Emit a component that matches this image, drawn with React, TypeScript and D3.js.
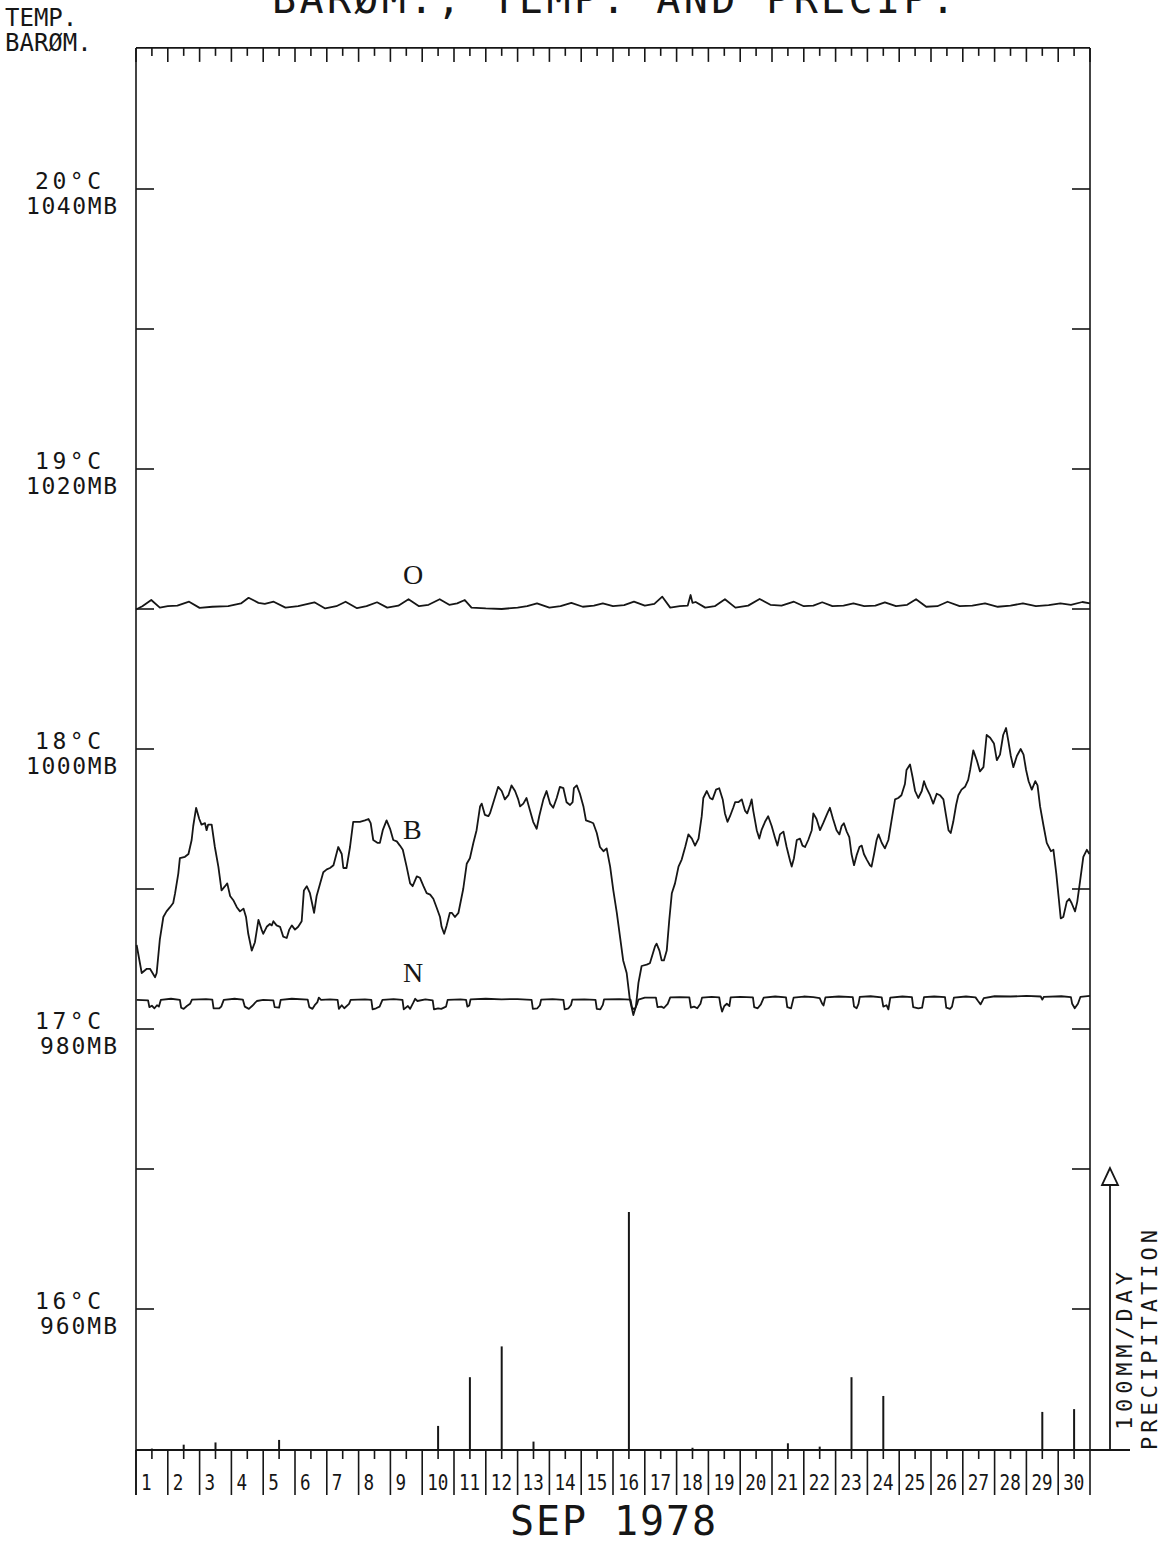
import * as d3 from "d3";

// plotter chart: barometer (B), two temperature traces (O, N) and daily precipitation, Sep 1978

const dayLabels = ["1", "2", "3", "4", "5", "6", "7", "8", "9", "10", "11", "12", "13", "14", "15",
  "16", "17", "18", "19", "20", "21", "22", "23", "24", "25", "26", "27", "28", "29", "30"];

// mm/day, one per day
const precip = [0.5, 1.9, 2.7, 0, 3.6, 0, 0, 0, 0, 8.6, 26, 37, 3.0, 0, 0, 85, 0, 0.8, 0, 0,
  2.4, 1.2, 26, 19.3, 0, 0, 0, 0, 13.6, 14.6];

const tempTicks = [16, 17, 18, 19, 20];
const baroTicks = [960, 980, 1000, 1020, 1040];

// barometer, time in days since 1 Sep 00h, pressure in mb
const baroTimes = [0.02, 0.18, 0.34, 0.44, 0.6, 0.65, 0.75, 0.86, 0.96, 1.07, 1.17, 1.23, 1.33, 1.38, 1.54, 1.65, 1.75, 1.8, 1.89, 1.99,
  2.06, 2.17, 2.22, 2.27, 2.38, 2.48, 2.59, 2.69, 2.8, 2.87, 2.96, 3.06, 3.17, 3.27, 3.38, 3.46, 3.53, 3.64, 3.74, 3.85,
  3.95, 4.0, 4.11, 4.21, 4.27, 4.32, 4.42, 4.53, 4.63, 4.74, 4.82, 4.9, 5.0, 5.1, 5.21, 5.28, 5.37, 5.47, 5.6, 5.68,
  5.79, 5.89, 6.0, 6.1, 6.21, 6.29, 6.36, 6.47, 6.52, 6.62, 6.73, 6.83, 7.04, 7.2, 7.31, 7.38, 7.46, 7.59, 7.67, 7.76,
  7.88, 7.99, 8.09, 8.2, 8.3, 8.39, 8.51, 8.62, 8.7, 8.83, 8.93, 9.04, 9.14, 9.25, 9.35, 9.45, 9.56, 9.61, 9.69, 9.77,
  9.87, 9.93, 10.03, 10.14, 10.29, 10.4, 10.5, 10.61, 10.71, 10.82, 10.87, 10.97, 11.08, 11.13, 11.24, 11.39, 11.5, 11.6, 11.71, 11.81,
  11.92, 12.02, 12.08, 12.18, 12.28, 12.39, 12.49, 12.6, 12.68, 12.81, 12.91, 13.02, 13.12, 13.23, 13.33, 13.44, 13.54, 13.65, 13.73, 13.77,
  13.86, 13.96, 14.07, 14.15, 14.28, 14.38, 14.49, 14.59, 14.7, 14.8, 14.91, 15.01, 15.12, 15.22, 15.32, 15.43, 15.53, 15.64, 15.72, 15.8,
  15.9, 16.06, 16.16, 16.32, 16.37, 16.46, 16.53, 16.6, 16.69, 16.77, 16.85, 16.95, 17.06, 17.16, 17.27, 17.37, 17.48, 17.58, 17.69, 17.79,
  17.84, 17.95, 18.05, 18.13, 18.24, 18.34, 18.45, 18.52, 18.6, 18.68, 18.78, 18.84, 18.94, 19.05, 19.15, 19.22, 19.31, 19.36, 19.41, 19.52,
  19.6, 19.67, 19.78, 19.88, 19.99, 20.09, 20.17, 20.25, 20.36, 20.46, 20.57, 20.62, 20.69, 20.78, 20.88, 20.96, 21.04, 21.14, 21.25, 21.3,
  21.4, 21.51, 21.61, 21.74, 21.82, 21.92, 22.03, 22.12, 22.19, 22.26, 22.35, 22.43, 22.5, 22.58, 22.66, 22.75, 22.82, 22.89, 22.98, 23.08,
  23.13, 23.21, 23.29, 23.35, 23.45, 23.55, 23.66, 23.76, 23.87, 23.97, 24.07, 24.18, 24.23, 24.34, 24.42, 24.5, 24.6, 24.71, 24.78, 24.86,
  24.97, 25.07, 25.18, 25.28, 25.39, 25.47, 25.55, 25.62, 25.7, 25.79, 25.86, 25.96, 26.07, 26.17, 26.23, 26.33, 26.44, 26.54, 26.65, 26.75,
  26.86, 26.98, 27.07, 27.17, 27.27, 27.36, 27.43, 27.51, 27.59, 27.7, 27.82, 27.91, 27.99, 28.07, 28.17, 28.28, 28.35, 28.43, 28.54, 28.64,
  28.77, 28.85, 28.94, 29.01, 29.08, 29.16, 29.27, 29.35, 29.42, 29.53, 29.6, 29.69, 29.79, 29.9, 29.98];
const baroValues = [986.0, 984.0, 984.3, 984.3, 983.7, 984.0, 986.4, 988.0, 988.4, 988.7, 989.0, 989.7, 991.1, 992.2, 992.3, 992.5, 993.5, 994.5, 995.8, 995.0,
  994.6, 994.7, 994.2, 994.6, 994.6, 993.0, 991.6, 989.9, 990.2, 990.4, 989.5, 989.2, 988.7, 988.4, 988.6, 988.0, 986.8, 985.6, 986.2, 987.8,
  987.1, 986.8, 987.3, 987.5, 987.4, 987.7, 987.4, 987.3, 986.6, 986.5, 987.1, 987.4, 987.1, 987.3, 987.7, 989.9, 990.2, 989.7, 988.3, 989.5,
  990.4, 991.2, 991.4, 991.5, 991.7, 992.4, 993.0, 992.5, 991.5, 991.5, 993.0, 994.8, 994.8, 994.9, 995.0, 994.7, 993.5, 993.3, 993.3, 994.2,
  994.9, 994.3, 993.5, 993.4, 993.1, 992.8, 991.6, 990.4, 990.2, 990.9, 990.8, 990.2, 989.7, 989.6, 989.3, 988.7, 988.0, 987.3, 986.8, 987.4,
  988.3, 988.3, 988.0, 988.3, 990.0, 991.8, 992.2, 993.3, 994.2, 995.9, 996.1, 995.3, 995.2, 995.4, 996.2, 997.3, 997.0, 996.4, 996.7, 997.4,
  997.0, 996.4, 995.9, 996.1, 996.5, 995.6, 994.8, 994.3, 995.2, 996.4, 997.0, 996.1, 995.8, 996.5, 997.3, 997.2, 996.2, 996.0, 996.2, 997.2,
  997.4, 996.8, 995.9, 994.9, 994.8, 994.7, 994.0, 993.0, 992.7, 992.9, 991.6, 989.9, 988.3, 986.6, 984.9, 984.0, 982.1, 981.0, 981.6, 983.3,
  984.5, 984.6, 984.7, 985.9, 986.1, 985.6, 984.9, 984.9, 985.6, 987.8, 989.7, 990.4, 991.6, 992.1, 993.0, 993.9, 993.6, 993.1, 993.6, 995.2,
  996.5, 997.0, 996.5, 996.4, 997.1, 997.2, 996.4, 995.4, 994.8, 995.2, 995.8, 996.2, 996.2, 996.4, 995.6, 995.4, 996.0, 996.4, 995.6, 994.2,
  993.6, 994.2, 994.8, 995.2, 994.5, 993.7, 993.1, 993.9, 994.1, 993.0, 992.0, 991.6, 992.2, 993.5, 993.6, 993.1, 993.0, 993.5, 994.2, 995.4,
  995.0, 994.2, 994.7, 995.4, 995.8, 995.0, 994.2, 993.9, 994.5, 994.7, 994.1, 993.7, 992.5, 991.7, 992.4, 993.0, 993.1, 992.5, 992.1, 991.7,
  991.6, 992.5, 993.5, 993.9, 993.3, 992.9, 993.5, 994.9, 996.4, 996.5, 996.7, 997.5, 998.5, 998.9, 998.0, 997.0, 996.5, 997.0, 997.7, 997.2,
  996.7, 996.1, 996.8, 996.7, 996.4, 995.3, 994.2, 994.0, 994.8, 996.0, 996.7, 997.1, 997.3, 997.8, 998.5, 999.9, 999.2, 998.4, 998.7, 1001.0,
  1000.8, 1000.4, 999.2, 999.6, 1001.0, 1001.5, 1000.6, 999.5, 998.7, 999.5, 1000.0, 999.6, 998.5, 997.7, 997.1, 997.7, 997.4, 995.9, 994.5, 993.3,
  992.7, 992.8, 991.1, 989.5, 987.9, 988.0, 989.1, 989.3, 989.0, 988.4, 989.1, 990.6, 992.3, 992.8, 992.5];

// temperature trace O (deg C)
const oTimes = [0, 0.2, 0.48, 0.75, 1.0, 1.3, 1.67, 2.0, 2.4, 2.9, 3.3, 3.54, 3.85, 4.05, 4.33, 4.7, 5.1, 5.61, 5.95, 6.3,
  6.59, 6.95, 7.25, 7.58, 7.9, 8.25, 8.57, 8.9, 9.2, 9.55, 9.85, 10.1, 10.34, 10.55, 11.0, 11.5, 12.0, 12.3, 12.61, 13.0,
  13.35, 13.69, 14.05, 14.4, 14.68, 15.0, 15.35, 15.66, 16.0, 16.3, 16.55, 16.8, 17.1, 17.35, 17.44, 17.5, 17.6, 17.9, 18.2, 18.52,
  18.85, 19.25, 19.61, 19.95, 20.3, 20.69, 21.0, 21.3, 21.58, 21.9, 22.25, 22.56, 22.9, 23.25, 23.55, 23.9, 24.25, 24.53, 24.85, 25.2,
  25.52, 25.9, 26.3, 26.7, 27.1, 27.5, 27.89, 28.3, 28.7, 29.07, 29.4, 29.76, 30.0];
const oTemps = [18.498, 18.51, 18.532, 18.505, 18.51, 18.512, 18.526, 18.504, 18.508, 18.51, 18.52, 18.54, 18.522, 18.518, 18.526, 18.505, 18.51, 18.524, 18.502, 18.51,
  18.526, 18.503, 18.51, 18.524, 18.505, 18.512, 18.535, 18.51, 18.515, 18.535, 18.515, 18.52, 18.532, 18.505, 18.502, 18.5, 18.505, 18.51, 18.52, 18.505,
  18.51, 18.522, 18.508, 18.512, 18.52, 18.51, 18.514, 18.526, 18.512, 18.518, 18.544, 18.505, 18.51, 18.512, 18.55, 18.522, 18.525, 18.505, 18.51, 18.535,
  18.505, 18.512, 18.536, 18.515, 18.512, 18.526, 18.51, 18.512, 18.524, 18.51, 18.512, 18.52, 18.51, 18.512, 18.524, 18.51, 18.515, 18.535, 18.508, 18.51,
  18.526, 18.51, 18.512, 18.52, 18.508, 18.512, 18.52, 18.51, 18.514, 18.52, 18.515, 18.525, 18.52];

// temperature trace N (deg C)
const nTimes = [0.02, 0.38, 0.42, 0.5, 0.58, 0.66, 0.72, 0.78, 1.1, 1.38, 1.42, 1.5, 1.6, 1.7, 1.76, 2.2, 2.4, 2.44, 2.62, 2.68,
  2.76, 3.1, 3.36, 3.42, 3.55, 3.65, 3.8, 4.0, 4.32, 4.36, 4.5, 4.55, 4.9, 5.4, 5.45, 5.55, 5.62, 5.7, 5.75, 5.82,
  6.1, 6.34, 6.38, 6.47, 6.55, 6.7, 6.75, 7.2, 7.4, 7.44, 7.55, 7.66, 7.75, 8.1, 8.38, 8.42, 8.55, 8.62, 8.72, 8.78,
  8.85, 9.1, 9.33, 9.37, 9.5, 9.6, 9.75, 9.8, 10.2, 10.38, 10.42, 10.48, 10.52, 11.0, 11.5, 12.0, 12.44, 12.48, 12.62, 12.7,
  12.74, 13.1, 13.44, 13.48, 13.6, 13.68, 13.72, 14.1, 14.45, 14.49, 14.6, 14.68, 14.72, 15.2, 15.55, 15.6, 15.68, 15.76, 15.8, 16.0,
  16.35, 16.4, 16.52, 16.6, 16.72, 16.8, 17.1, 17.4, 17.45, 17.55, 17.65, 17.75, 17.8, 18.1, 18.34, 18.38, 18.43, 18.5, 18.58, 18.66,
  18.7, 19.0, 19.4, 19.44, 19.55, 19.65, 19.74, 20.1, 20.44, 20.48, 20.6, 20.68, 21.0, 21.3, 21.5, 21.58, 21.62, 21.68, 22.1, 22.54,
  22.58, 22.66, 22.72, 22.76, 23.1, 23.45, 23.5, 23.6, 23.66, 23.72, 24.1, 24.4, 24.44, 24.6, 24.72, 24.78, 25.1, 25.44, 25.48, 25.6,
  25.66, 25.72, 26.1, 26.4, 26.48, 26.56, 26.66, 27.0, 27.5, 28.0, 28.45, 28.5, 28.55, 29.1, 29.4, 29.44, 29.52, 29.62, 29.7, 30.0];
const nTemps = [17.104, 17.102, 17.078, 17.083, 17.074, 17.085, 17.08, 17.104, 17.108, 17.104, 17.076, 17.072, 17.082, 17.09, 17.105, 17.107, 17.105, 17.074, 17.074, 17.08,
  17.104, 17.108, 17.105, 17.08, 17.072, 17.082, 17.1, 17.104, 17.102, 17.078, 17.076, 17.104, 17.108, 17.105, 17.078, 17.072, 17.085, 17.095, 17.112, 17.104,
  17.106, 17.104, 17.072, 17.085, 17.074, 17.09, 17.104, 17.106, 17.104, 17.07, 17.074, 17.08, 17.104, 17.107, 17.104, 17.07, 17.082, 17.072, 17.094, 17.108,
  17.1, 17.106, 17.102, 17.07, 17.074, 17.072, 17.08, 17.104, 17.106, 17.104, 17.08, 17.084, 17.106, 17.108, 17.106, 17.107, 17.104, 17.072, 17.074, 17.085,
  17.105, 17.107, 17.104, 17.07, 17.074, 17.086, 17.105, 17.106, 17.104, 17.072, 17.07, 17.086, 17.106, 17.107, 17.105, 17.076, 17.07, 17.09, 17.105, 17.112,
  17.112, 17.078, 17.08, 17.075, 17.09, 17.113, 17.114, 17.113, 17.076, 17.08, 17.074, 17.09, 17.112, 17.115, 17.113, 17.085, 17.062, 17.082, 17.09, 17.082,
  17.113, 17.115, 17.113, 17.078, 17.074, 17.088, 17.112, 17.116, 17.113, 17.078, 17.074, 17.112, 17.116, 17.114, 17.11, 17.09, 17.084, 17.113, 17.116, 17.114,
  17.08, 17.074, 17.09, 17.115, 17.117, 17.113, 17.08, 17.085, 17.07, 17.112, 17.116, 17.114, 17.078, 17.074, 17.076, 17.114, 17.116, 17.114, 17.076, 17.072,
  17.08, 17.112, 17.116, 17.113, 17.1, 17.088, 17.11, 17.117, 17.116, 17.118, 17.116, 17.105, 17.115, 17.117, 17.114, 17.09, 17.074, 17.09, 17.115, 17.118];

const W = 1171;
const H = 1544;
const INK = "#161616";
const MONO = "'DejaVu Sans Mono', monospace";

export default function App() {
  const x = d3.scaleLinear().domain([0, 30]).range([136, 1090]);
  const yT = d3.scaleLinear().domain([16, 20]).range([1309, 189]);
  const yB = d3.scaleLinear().domain([960, 1040]).range([1309, 189]);
  const yP = d3.scaleLinear().domain([0, 100]).range([1450, 1170]);

  const top = yT(20.504);
  const base = yP(0);
  const bottom = base + 45;

  const baroLine = d3.line<[number, number]>().x((d) => x(d[0])).y((d) => yB(d[1]));
  const tempLine = d3.line<[number, number]>().x((d) => x(d[0])).y((d) => yT(d[1]));

  const baro = d3.zip(baroTimes, baroValues) as [number, number][];
  const oSeries = d3.zip(oTimes, oTemps) as [number, number][];
  const nSeries = d3.zip(nTimes, nTemps) as [number, number][];

  const halfDays = d3.range(0, 30.001, 0.5);
  const sideTicks = d3.range(16, 20.001, 0.5);

  return (
    <svg width={W} height={H} style={{ position: "absolute", left: 0, top: 0 }}>
      <rect width={W} height={H} fill="#fff" />

      {/* title, mostly cut off at the top edge as in the scanned plot */}
      <text x={272} y={13} fontFamily={MONO} fontSize={40} fill={INK} textLength={683} lengthAdjust="spacing">
        BARØM., TEMP. AND PRECIP.
      </text>
      <text x={5} y={26} fontFamily={MONO} fontSize={24} fill={INK}>TEMP.</text>
      <text x={5} y={51} fontFamily={MONO} fontSize={24} fill={INK}>BARØM.</text>

      {/* frame */}
      <g stroke={INK} strokeWidth={1.6} fill="none">
        <line x1={x(0)} x2={x(0)} y1={top} y2={bottom} />
        <line x1={x(30)} x2={x(30)} y1={top} y2={bottom} />
        <line x1={x(0)} x2={x(30)} y1={top} y2={top} />
        <line x1={x(0)} x2={1130} y1={base} y2={base} strokeWidth={2} />
        {halfDays.map((t) => (
          <line key={"tt" + t} x1={x(t)} x2={x(t)} y1={top} y2={top + (t % 1 === 0 ? 14 : 8)} />
        ))}
        {sideTicks.map((v) => (
          <g key={"st" + v}>
            <line x1={x(0)} x2={x(0) + 18} y1={yT(v)} y2={yT(v)} />
            <line x1={x(30) - 18} x2={x(30)} y1={yT(v)} y2={yT(v)} />
          </g>
        ))}
        {dayLabels.map((d, i) => (
          <g key={"db" + d}>
            <line x1={x(i)} x2={x(i)} y1={base} y2={bottom} />
            <line x1={x(i + 0.5)} x2={x(i + 0.5)} y1={base} y2={base + 9} />
          </g>
        ))}
      </g>

      {/* axis labels */}
      {tempTicks.map((v, i) => (
        <g key={"lab" + v} fontFamily={MONO} fontSize={23} fill={INK} textAnchor="end">
          <text x={101} y={yT(v)} textLength={66} lengthAdjust="spacing">{v}°C</text>
          <text x={117} y={yT(v) + 25} textLength={baroTicks[i] >= 1000 ? 91 : 77} lengthAdjust="spacing">
            {baroTicks[i]}MB
          </text>
        </g>
      ))}

      {/* day labels */}
      {dayLabels.map((d, i) => (
        <text key={"dl" + d} transform={`translate(${x(i) + 5},${base + 40}) scale(0.8,1)`}
          fontFamily={MONO} fontSize={22} fill={INK}>{d}</text>
      ))}
      <text x={510} y={1535} fontFamily={MONO} fontSize={40} fill={INK} textLength={206} lengthAdjust="spacing">
        SEP 1978
      </text>

      {/* precipitation */}
      <g stroke={INK} strokeWidth={2}>
        {precip.map((v, i) =>
          v > 0 ? <line key={"p" + i} x1={x(i + 0.5)} x2={x(i + 0.5)} y1={yP(0)} y2={yP(v)} /> : null
        )}
      </g>
      <line x1={1110} x2={1110} y1={base} y2={yP(100)} stroke={INK} strokeWidth={1.8} />
      <polygon points={`1110,${yP(100) - 2} 1102,${yP(100) + 15} 1118,${yP(100) + 15}`} fill="#fff" stroke={INK} strokeWidth={1.8} />
      <text transform={`translate(1132,1430) rotate(-90)`} fontFamily={MONO} fontSize={22} fill={INK}
        textLength={158} lengthAdjust="spacing">100MM/DAY</text>
      <text transform={`translate(1157,1450) rotate(-90)`} fontFamily={MONO} fontSize={22} fill={INK}
        textLength={220} lengthAdjust="spacing">PRECIPITATION</text>

      {/* series */}
      <g fill="none" stroke={INK} strokeWidth={1.8} strokeLinejoin="round">
        <path d={tempLine(oSeries) ?? ""} />
        <path d={baroLine(baro) ?? ""} />
        <path d={tempLine(nSeries) ?? ""} />
      </g>
      <g fontFamily="'Liberation Serif', serif" fontSize={28} fill={INK}>
        <text x={x(8.4)} y={yT(18.589)}>O</text>
        <text x={x(8.4)} y={yB(993.6)}>B</text>
        <text x={x(8.4)} y={yT(17.168)}>N</text>
      </g>
    </svg>
  );
}
